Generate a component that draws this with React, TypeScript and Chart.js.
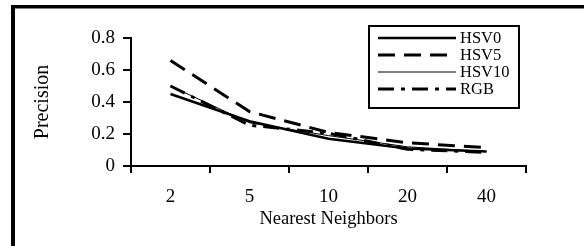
import React, { useEffect, useRef } from "react";
import { Chart, registerables } from "chart.js";

Chart.register(...registerables);

const categories = ["2", "5", "10", "20", "40"];
const hsv0 = [0.45, 0.28, 0.17, 0.11, 0.09];
const hsv5 = [0.66, 0.34, 0.21, 0.145, 0.115];
const hsv10 = [0.5, 0.27, 0.19, 0.12, 0.09];
const rgb = [0.5, 0.255, 0.205, 0.105, 0.085];
const yTicks = [0, 0.2, 0.4, 0.6, 0.8];

const FONT = "'Liberation Serif', 'Times New Roman', serif";

const framePlugin = {
  id: "frame",
  beforeDraw(chart: any) {
    const ctx = chart.ctx;
    ctx.save();
    ctx.fillStyle = "#fff";
    ctx.fillRect(0, 0, chart.width, chart.height);
    ctx.fillStyle = "#000";
    ctx.fillRect(11, 5, 700, 3.5);
    ctx.fillRect(11, 5, 4, 400);
    ctx.restore();
  },
};

const legendPlugin = {
  id: "boxLegend",
  afterDraw(chart: any) {
    const ctx = chart.ctx;
    ctx.save();
    ctx.strokeStyle = "#000";
    ctx.lineWidth = 2;
    ctx.strokeRect(369, 26, 150, 82);
    const rows = [38, 55, 72, 89];
    ctx.font = `16.5px ${FONT}`;
    ctx.textBaseline = "middle";
    ctx.fillStyle = "#000";
    chart.data.datasets.forEach((ds: any, i: number) => {
      const y = rows[i];
      ctx.beginPath();
      ctx.setLineDash(ds.borderDash || []);
      ctx.lineWidth = ds.borderWidth;
      ctx.moveTo(378, y);
      ctx.lineTo(456, y);
      ctx.stroke();
      ctx.setLineDash([]);
      ctx.fillText(ds.label, 460, y + 1);
    });
    ctx.restore();
  },
};

export default function App() {
  const ref = useRef<HTMLCanvasElement>(null);
  useEffect(() => {
    if (!ref.current) return;
    const chart = new Chart(ref.current, {
      type: "line",
      data: {
        labels: categories,
        datasets: [
          { label: "HSV0", data: hsv0, borderColor: "#000", borderWidth: 2.5, pointRadius: 0, tension: 0 },
          { label: "HSV5", data: hsv5, borderColor: "#000", borderWidth: 3, borderDash: [17, 9], pointRadius: 0, tension: 0 },
          { label: "HSV10", data: hsv10, borderColor: "#000", borderWidth: 1, pointRadius: 0, tension: 0 },
          { label: "RGB", data: rgb, borderColor: "#000", borderWidth: 3, borderDash: [16, 7, 4, 7], pointRadius: 0, tension: 0 },
        ],
      },
      options: {
        responsive: false,
        animation: false,
        layout: { padding: { left: 27, top: 38, right: 58, bottom: 16 } },
        plugins: { legend: { display: false }, tooltip: { enabled: false } },
        scales: {
          x: {
            offset: true,
            grid: { offset: true, drawOnChartArea: false, drawTicks: true, tickLength: 7, color: "#000", lineWidth: 2 },
            border: { color: "#000", width: 2 },
            ticks: { color: "#000", font: { family: FONT, size: 19 }, padding: 13, maxRotation: 0 },
            title: { display: true, text: "Nearest Neighbors", color: "#000", font: { family: FONT, size: 18.5 }, padding: { top: 0, bottom: 0 } },
            afterFit: (s: any) => { s.height = 64; },
          },
          y: {
            min: 0,
            max: 0.8,
            afterBuildTicks: (s: any) => { s.ticks = yTicks.map((v) => ({ value: v })); },
            grid: { drawOnChartArea: false, drawTicks: true, tickLength: 8, color: "#000", lineWidth: 2 },
            border: { color: "#000", width: 2 },
            ticks: { color: "#000", font: { family: FONT, size: 19 }, padding: 8 },
            title: { display: true, text: "Precision", color: "#000", font: { family: FONT, size: 20 }, padding: { top: 4, bottom: 0 } },
            afterFit: (s: any) => { s.width = 104; },
          },
        },
      },
      plugins: [framePlugin, legendPlugin],
    });
    return () => chart.destroy();
  }, []);
  return (
    <div style={{ position: "absolute", left: 0, top: 0, width: 584, height: 246, overflow: "hidden", background: "#fff" }}>
      <canvas ref={ref} width={584} height={246} style={{ display: "block" }} />
    </div>
  );
}
